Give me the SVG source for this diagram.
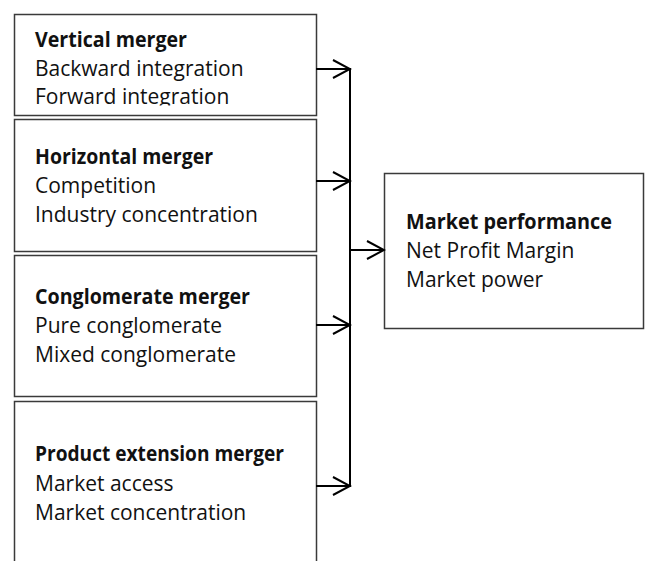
<svg xmlns="http://www.w3.org/2000/svg" width="645" height="561" viewBox="0 0 645 561">
<style>
.box{fill:#fff;stroke:#3a3a3a;stroke-width:1.5}
text{font-family:"Open Sans","Liberation Sans",sans-serif;font-size:21px;fill:#111}
.b{font-weight:bold}
.ln{fill:none;stroke:#000;stroke-width:2}
</style>
<defs>
<marker id="arr" markerWidth="20" markerHeight="22" refX="18" refY="10" orient="auto" markerUnits="userSpaceOnUse">
<path d="M1,1 L18,10 L1,19" fill="none" stroke="#000" stroke-width="2"/>
</marker>
<clipPath id="c1"><rect x="14" y="14" width="302" height="91.5"/></clipPath>
</defs>
<rect width="645" height="561" fill="#fff"/>
<g id="vertical">
<rect class="box" x="14.5" y="14.5" width="302" height="101"/>
<g clip-path="url(#c1)">
<text x="35" y="47" class="b" textLength="152" lengthAdjust="spacingAndGlyphs">Vertical merger</text>
<text x="35" y="76">Backward integration</text>
<text x="35" y="104">Forward integration</text>
</g>
</g>
<g id="horizontal">
<rect class="box" x="14.5" y="119.5" width="302" height="132"/>
<text x="35" y="164" class="b" textLength="178" lengthAdjust="spacingAndGlyphs">Horizontal merger</text>
<text x="35" y="193">Competition</text>
<text x="35" y="222">Industry concentration</text>
</g>
<g id="conglomerate">
<rect class="box" x="14.5" y="255.5" width="302" height="141"/>
<text x="35" y="304" class="b" textLength="215" lengthAdjust="spacingAndGlyphs">Conglomerate merger</text>
<text x="35" y="333">Pure conglomerate</text>
<text x="35" y="362">Mixed conglomerate</text>
</g>
<g id="product">
<rect class="box" x="14.5" y="401.5" width="302" height="180"/>
<text x="35" y="461" class="b" textLength="249" lengthAdjust="spacingAndGlyphs">Product extension merger</text>
<text x="35" y="491">Market access</text>
<text x="35" y="520">Market concentration</text>
</g>
<g id="performance">
<rect class="box" x="384.5" y="173.5" width="259" height="155"/>
<text x="406" y="229" class="b" textLength="206" lengthAdjust="spacingAndGlyphs">Market performance</text>
<text x="406" y="258">Net Profit Margin</text>
<text x="406" y="287">Market power</text>
</g>
<g id="connectors">
<line class="ln" x1="350" y1="68" x2="350" y2="487"/>
<line class="ln" x1="316" y1="69" x2="350" y2="69" marker-end="url(#arr)"/>
<line class="ln" x1="316" y1="181" x2="350" y2="181" marker-end="url(#arr)"/>
<line class="ln" x1="316" y1="325" x2="350" y2="325" marker-end="url(#arr)"/>
<line class="ln" x1="316" y1="486" x2="350" y2="486" marker-end="url(#arr)"/>
<line class="ln" x1="350" y1="250" x2="384" y2="250" marker-end="url(#arr)"/>
</g>
</svg>
